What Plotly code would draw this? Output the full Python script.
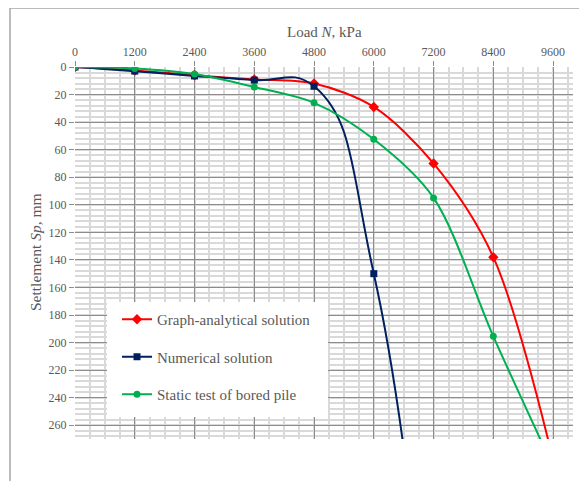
import plotly.graph_objects as go

loads = [0, 1200, 2400, 3600, 4800, 6000, 7200, 8400, 9600]
graph_analytical = [0, 2.5, 6, 9, 12, 29, 70, 138, 285]
numerical_loads = [0, 1200, 2400, 3600, 4800, 6000, 7200]
numerical = [0, 3, 6.5, 9.5, 14, 150, 480]
static_test = [0, 1, 5, 14.5, 26, 52.5, 95, 195.5, 290]

x_ticks = [0, 1200, 2400, 3600, 4800, 6000, 7200, 8400, 9600]
y_ticks = list(range(0, 261, 20))

FONT = "Liberation Serif"
TXT = "#595959"

fig = go.Figure()
fig.add_trace(go.Scatter(x=loads, y=graph_analytical, mode="lines+markers",
                         name="Graph-analytical solution", legendgroup="a",
                         line=dict(color="#FF0000", width=2, shape="spline", smoothing=0.9),
                         marker=dict(symbol="diamond", size=8, color="#FF0000")))
fig.add_trace(go.Scatter(x=numerical_loads, y=numerical, mode="lines+markers",
                         name="Numerical solution", legendgroup="b",
                         line=dict(color="#002060", width=2, shape="spline", smoothing=1.3),
                         marker=dict(symbol="square", size=7, color="#002060")))
fig.add_trace(go.Scatter(x=loads, y=static_test, mode="lines+markers",
                         name="Static test of bored pile", legendgroup="c",
                         line=dict(color="#00B050", width=2, shape="spline", smoothing=0.9),
                         marker=dict(symbol="circle", size=7, color="#00B050")))

# page body has an 8px margin; figure is offset accordingly
OFF = 8
W, H = 587 - OFF, 481 - OFF
L, T = 75 - OFF, 67 - OFF
R = W - (573 - OFF)
B = H - (439 - OFF)
pw, ph = W - L - R, H - T - B

def px2x(p):
    return (p - OFF - L) / pw

def py2y(p):
    return (H - B - (p - OFF)) / ph

fig.update_layout(
    width=W, height=H,
    margin=dict(l=L, r=R, t=T, b=B, autoexpand=False),
    paper_bgcolor="white", plot_bgcolor="white",
    font=dict(family=FONT, color=TXT, size=12),
    showlegend=True,
    legend=dict(x=px2x(117), y=py2y(303), xanchor="left", yanchor="top",
                bgcolor="rgba(0,0,0,0)", font=dict(size=15, color=TXT, family=FONT),
                tracegroupgap=15, itemwidth=30),
    xaxis=dict(side="top", range=[0, 10000], tickvals=x_ticks, automargin=False,
               showgrid=True, gridcolor="#8c8c8c", gridwidth=1,
               zeroline=False, showline=False,
               ticks="outside", ticklen=5, tickcolor="#8c8c8c",
               tickfont=dict(size=12, color=TXT),
               minor=dict(dtick=300, tick0=0, showgrid=True, gridcolor="#d9d9d9", gridwidth=1.5)),
    yaxis=dict(range=[270, 0], tickvals=y_ticks, automargin=False,
               showgrid=True, gridcolor="#8c8c8c", gridwidth=1,
               zeroline=False, showline=False,
               ticks="outside", ticklen=5, tickcolor="#8c8c8c",
               tickfont=dict(size=12, color=TXT),
               minor=dict(dtick=4, tick0=0, showgrid=True, gridcolor="#d9d9d9", gridwidth=1.5)),
    annotations=[
        dict(text="Load <i>N</i>, kPa", xref="paper", yref="paper", x=0.5, y=py2y(32),
             xanchor="center", yanchor="middle", showarrow=False,
             font=dict(size=15, color=TXT, family=FONT)),
        dict(text="Settlement <i>Sp</i>, mm", xref="paper", yref="paper", x=px2x(35), y=py2y(252),
             xanchor="center", yanchor="middle", showarrow=False, textangle=-90,
             font=dict(size=15.5, color=TXT, family=FONT)),
    ],
    shapes=[
        dict(type="rect", xref="paper", yref="paper", x0=px2x(10), x1=px2x(600),
             y0=py2y(500), y1=py2y(8), line=dict(color="#a6a6a6", width=1.5), layer="below"),
        dict(type="rect", xref="paper", yref="paper", x0=px2x(107), x1=px2x(328),
             y0=py2y(417), y1=py2y(302), fillcolor="white", line=dict(width=0), layer="above"),
    ],
)

fig.write_html("out.html")
